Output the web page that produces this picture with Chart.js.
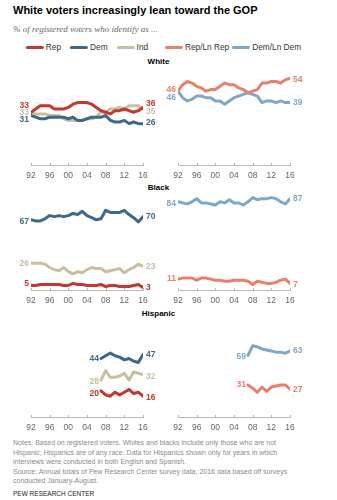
<!DOCTYPE html>
<html>
<head>
<meta charset="utf-8">
<script src="https://cdn.jsdelivr.net/npm/chart.js@4.4.0/dist/chart.umd.min.js"></script>
<style>
  html, body { margin: 0; padding: 0; background: #fff; }
  body { width: 337px; height: 500px; position: relative; overflow: hidden;
         font-family: "Liberation Sans", Arial, sans-serif; }
  .abs { position: absolute; white-space: nowrap; }
  #title { left: 13px; top: 4px; font-size: 11px; line-height: 13px; font-weight: bold; color: #000; }
  #subtitle { left: 13px; top: 24px; font-family: "Liberation Serif", serif; font-style: italic;
              font-size: 9px; line-height: 11px; color: #666; }
  .legend { top: 42px; display: flex; align-items: center; font-size: 8.3px; line-height: 10px;
            color: #333; transform: translateX(-50%); }
  .legend .item { display: flex; align-items: center; }
  .legend .swatch { width: 18px; height: 3px; border-radius: 1.5px; margin-right: 2px; }
  .panel-title { left: 158.5px; transform: translateX(-50%); font-size: 8px; line-height: 10px;
                 font-weight: bold; color: #000; }
  canvas { position: absolute; }
  #notes { left: 13px; top: 438px; font-size: 7px; line-height: 9.5px; color: #8a8a8a; }
  #credit { left: 13px; top: 490px; font-size: 6.5px; line-height: 8px; color: #222; }
</style>
</head>
<body>
<div id="title" class="abs">White voters increasingly lean toward the GOP</div>
<div id="subtitle" class="abs">% of registered voters who identify as ...</div>
<div id="legendLeft" class="abs legend" style="left:87px; gap:9px;"></div>
<div id="legendRight" class="abs legend" style="left:233px; gap:3px;"></div>

<div class="abs panel-title" style="top:57px;">White</div>
<div class="abs panel-title" style="top:183px;">Black</div>
<div class="abs panel-title" style="top:309px;">Hispanic</div>

<div id="notes" class="abs">Notes: Based on registered voters. Whites and blacks include only those who are not<br>Hispanic; Hispanics are of any race. Data for Hispanics shown only for years in which<br>interviews were conducted in both English and Spanish.<br>Source: Annual totals of Pew Research Center survey data; 2016 data based off surveys<br>conducted January-August.</div>
<div id="credit" class="abs">PEW RESEARCH CENTER</div>

<script>
// years on the x axis
const years = [1992, 1993, 1994, 1995, 1996, 1997, 1998, 1999, 2000, 2001, 2002, 2003,
  2004, 2005, 2006, 2007, 2008, 2009, 2010, 2011, 2012, 2013, 2014, 2015, 2016];
const hispYears = [2007, 2008, 2009, 2010, 2011, 2012, 2013, 2014, 2015, 2016];
const tickYears = [1992, 1996, 2000, 2004, 2008, 2012, 2016];
const tickLabels = ["92", "96", "00", "04", "08", "12", "16"];

const seriesNames = ["Rep", "Dem", "Ind", "Rep/Ln Rep", "Dem/Ln Dem"];
const seriesColors = ["#c4372c", "#3e6889", "#c9bfa0", "#e9806e", "#7fa7c8"];

// White
const whiteRep = [33, 35, 37, 37, 37, 35, 35, 35, 36, 38, 39, 39, 39, 38, 36, 34, 33, 32, 34, 34, 35, 34, 33, 34, 36];
const whiteDem = [31, 30, 29, 29, 30, 30, 30, 30, 29, 30, 28, 28, 29, 30, 30, 30, 31, 28, 27, 27, 28, 26, 27, 26, 26];
const whiteInd = [33, 32, 32, 32, 31, 31, 31, 29, 28, 28, 28, 28, 29, 29, 30, 33, 33, 35, 35, 36, 35, 37, 37, 37, 35];
const whiteRepLn = [46, 50, 52, 51, 49, 48, 46, 47, 47, 49, 51, 50, 50, 48, 47, 45, 46, 47, 51, 51, 52, 52, 51, 53, 54];
const whiteDemLn = [46, 42, 40, 41, 43, 43, 42, 42, 40, 40, 38, 40, 42, 43, 44, 45, 44, 43, 39, 40, 40, 39, 40, 39, 39];

// Black
const blackRep = [5, 5, 6, 6, 6, 6, 6, 5, 5, 7, 6, 6, 5, 5, 5, 6, 4, 5, 5, 4, 4, 4, 5, 6, 3];
const blackDem = [67, 66, 66, 68, 71, 70, 71, 70, 71, 73, 72, 75, 71, 69, 67, 68, 76, 74, 74, 74, 76, 72, 69, 65, 70];
const blackInd = [26, 26, 26, 25, 22, 20, 19, 22, 18, 16, 18, 17, 20, 22, 21, 21, 18, 19, 20, 21, 17, 20, 22, 25, 23];
const blackRepLn = [11, 12, 12, 12, 10, 12, 12, 11, 10, 10, 9, 9, 10, 10, 10, 9, 6, 9, 8, 7, 7, 8, 10, 11, 7];
const blackDemLn = [84, 83, 82, 84, 87, 83, 83, 82, 81, 84, 83, 86, 83, 83, 81, 84, 88, 86, 87, 87, 88, 87, 84, 82, 87];

// Hispanic (2007 onward)
const hispRep = [20, 17, 16, 19, 17, 19, 21, 18, 19, 16];
const hispDem = [44, 46, 48, 46, 45, 43, 44, 42, 41, 47];
const hispInd = [28, 35, 30, 30, 31, 33, 28, 34, 33, 32];
const hispRepLn = [31, 28, 24, 29, 25, 29, 30, 31, 31, 27];
const hispDemLn = [59, 68, 67, 65, 64, 63, 62, 62, 61, 63];

// legend
function buildLegend(el, names, colors) {
  names.forEach((name, i) => {
    const item = document.createElement("div");
    item.className = "item";
    item.innerHTML = `<span class="swatch" style="background:${colors[i]}"></span><span>${name}</span>`;
    el.appendChild(item);
  });
}
buildLegend(document.getElementById("legendLeft"), seriesNames.slice(0, 3), seriesColors.slice(0, 3));
buildLegend(document.getElementById("legendRight"), seriesNames.slice(3), seriesColors.slice(3));

// first / last value labels next to each line
const endLabels = {
  id: "endLabels",
  afterDatasetsDraw(chart, args, opts) {
    const ctx = chart.ctx;
    ctx.save();
    ctx.font = 'bold 8.5px "Liberation Sans", Arial, sans-serif';
    ctx.textBaseline = "middle";
    chart.data.datasets.forEach((ds, i) => {
      const pts = chart.getDatasetMeta(i).data;
      const first = pts[0];
      const last = pts[pts.length - 1];
      const nudge = opts.nudges[i] || [0, 0];
      ctx.fillStyle = ds.borderColor;
      ctx.textAlign = "right";
      ctx.fillText(String(ds.data[0].y), first.x - 2, first.y + nudge[0]);
      ctx.textAlign = "left";
      ctx.fillText(String(ds.data[ds.data.length - 1].y), last.x + 3, last.y + nudge[1]);
    });
    ctx.restore();
  }
};

// short tick marks pointing up from the axis line
const upTicks = {
  id: "upTicks",
  afterDraw(chart) {
    const xs = chart.scales.x;
    const ctx = chart.ctx;
    const b = Math.round(chart.chartArea.bottom);
    ctx.save();
    ctx.strokeStyle = "#b8b8b8";
    ctx.lineWidth = 1;
    xs.ticks.forEach((t) => {
      const px = Math.round(xs.getPixelForValue(t.value)) + 0.5;
      ctx.beginPath();
      ctx.moveTo(px, b);
      ctx.lineTo(px, b - 3);
      ctx.stroke();
    });
    ctx.restore();
  }
};

const toPoints = (xs, ys) => ys.map((y, i) => ({ x: xs[i], y: y }));

function makePanel(cfg) {
  const canvas = document.createElement("canvas");
  canvas.width = cfg.width;
  canvas.height = 130;
  canvas.style.left = cfg.left + "px";
  canvas.style.top = cfg.top + "px";
  document.body.appendChild(canvas);

  const datasets = cfg.series.map((s) => ({
    data: toPoints(s.xs, s.ys),
    borderColor: seriesColors[s.color],
    borderWidth: 3,
    borderCapStyle: "round",
    borderJoinStyle: "round",
    pointRadius: 0,
    tension: 0,
    fill: false
  }));

  new Chart(canvas, {
    type: "line",
    data: { datasets },
    plugins: [endLabels, upTicks],
    options: {
      responsive: false,
      animation: false,
      events: [],
      layout: { padding: { left: cfg.padLeft, right: cfg.padRight, top: 4, bottom: 2 } },
      plugins: {
        legend: { display: false },
        tooltip: { enabled: false },
        endLabels: { nudges: cfg.series.map((s) => s.nudge) }
      },
      scales: {
        x: {
          type: "linear",
          min: 1992,
          max: 2016,
          afterBuildTicks: (scale) => { scale.ticks = tickYears.map((v) => ({ value: v })); },
          grid: { display: true, drawOnChartArea: false, drawTicks: false },
          border: { display: true, color: "#b8b8b8", width: 1 },
          ticks: {
            padding: 5,
            maxRotation: 0,
            autoSkip: false,
            color: "#666",
            font: { family: '"Liberation Sans", Arial, sans-serif', size: 8.5 },
            callback: (v) => tickLabels[tickYears.indexOf(v)]
          }
        },
        y: { display: false, min: cfg.yMin || 0, max: cfg.yMax }
      }
    }
  });
}

const LEFT = { left: 0, width: 160, padLeft: 31, padRight: 17 };
const RIGHT = { left: 158, width: 179, padLeft: 20, padRight: 47 };

// White
makePanel({ ...LEFT, top: 58, yMax: 64, series: [
  { xs: years, ys: whiteRep, color: 0, nudge: [-6.5, -3.5] },
  { xs: years, ys: whiteDem, color: 1, nudge: [4.5, -1] },
  { xs: years, ys: whiteInd, color: 2, nudge: [0, 3] }
]});
makePanel({ ...RIGHT, top: 58, yMax: 64, series: [
  { xs: years, ys: whiteRepLn, color: 3, nudge: [-1.5, 1] },
  { xs: years, ys: whiteDemLn, color: 4, nudge: [6, 0] }
]});

// Black
makePanel({ ...LEFT, top: 183, yMax: 98, series: [
  { xs: years, ys: blackRep, color: 0, nudge: [-1.5, 0] },
  { xs: years, ys: blackDem, color: 1, nudge: [2, 0] },
  { xs: years, ys: blackInd, color: 2, nudge: [0, 0] }
]});
makePanel({ ...RIGHT, top: 183, yMax: 98, series: [
  { xs: years, ys: blackRepLn, color: 3, nudge: [0, 1] },
  { xs: years, ys: blackDemLn, color: 4, nudge: [2, 0] }
]});

// Hispanic
makePanel({ ...LEFT, top: 310, yMax: 77, series: [
  { xs: hispYears, ys: hispRep, color: 0, nudge: [3, 1] },
  { xs: hispYears, ys: hispDem, color: 1, nudge: [0, 0] },
  { xs: hispYears, ys: hispInd, color: 2, nudge: [2, 2] }
]});
makePanel({ ...RIGHT, top: 310, yMax: 98, series: [
  { xs: hispYears, ys: hispRepLn, color: 3, nudge: [0, 0] },
  { xs: hispYears, ys: hispDemLn, color: 4, nudge: [1, 0] }
]});
</script>
</body>
</html>
